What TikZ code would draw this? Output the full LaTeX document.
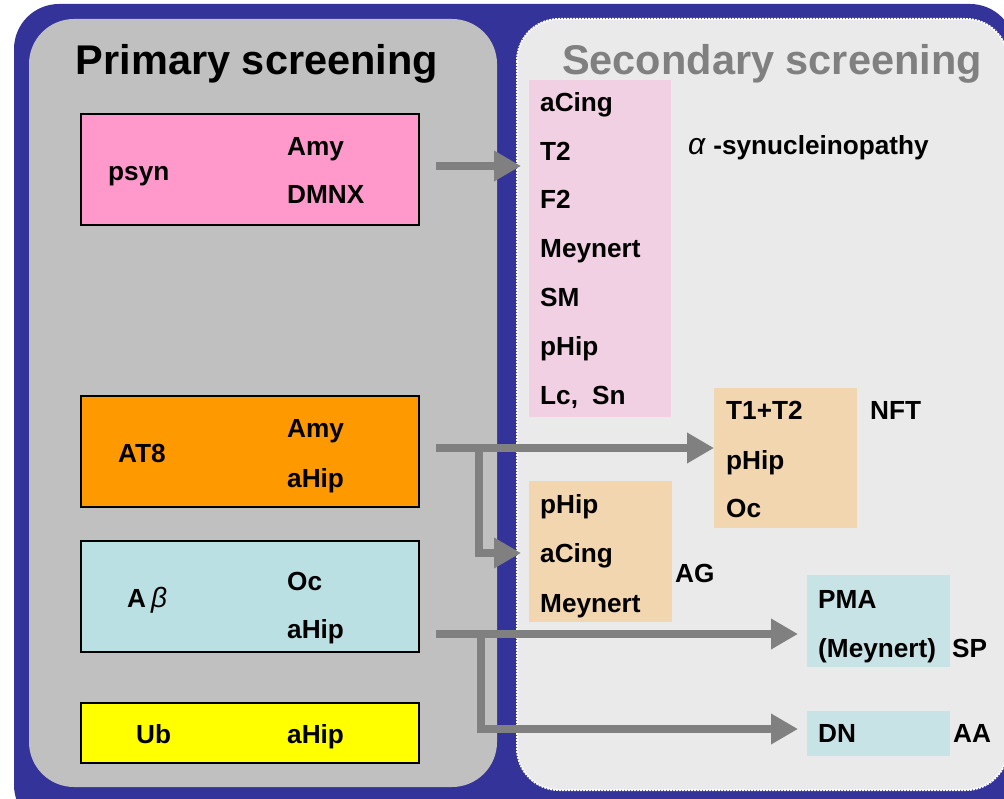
\documentclass[tikz,border=0pt]{standalone}
\usepackage{fontspec}
\setmainfont{Liberation Sans}
\usetikzlibrary{arrows.meta}
\definecolor{outerblue}{HTML}{333399}
\definecolor{panelgray}{HTML}{C0C0C0}
\definecolor{panellight}{HTML}{EAEAEA}
\definecolor{pinkhot}{HTML}{FF99CC}
\definecolor{orangebox}{HTML}{FF9900}
\definecolor{cyanbox}{HTML}{BBE0E3}
\definecolor{yellowbox}{HTML}{FFFF00}
\definecolor{pinklight}{HTML}{F0D0E2}
\definecolor{tanbox}{HTML}{F2D6B0}
\definecolor{bluelight}{HTML}{C8E3E6}
\definecolor{arrowgray}{HTML}{808080}
\definecolor{titlegray}{HTML}{808080}
\begin{document}
\begin{tikzpicture}[x=1pt,y=-1pt,
  primbox/.style={draw=black, line width=2pt, anchor=north west, inner sep=0pt, outer sep=0pt},
  secbox/.style={anchor=north west, inner sep=0pt, outer sep=0pt},
  lbl/.style={font=\fontsize{26.2}{30}\selectfont\bfseries, anchor=base west, inner sep=0pt},
  ttl/.style={font=\fontsize{41.5}{48}\selectfont\bfseries, anchor=base, inner sep=0pt},
  arr/.style={draw=arrowgray, line width=8pt, line join=miter, -{Triangle[length=27pt,width=29pt]}}
]
\useasboundingbox (0,0) rectangle (1004,799);
\clip (0,0) rectangle (1004,799);
\fill[white] (0,0) rectangle (1004,799);
% panels
\fill[outerblue, rounded corners=45pt] (14,4) rectangle (1015,830);
\fill[panelgray, rounded corners=45pt] (29,19) rectangle (497,787);
\filldraw[fill=panellight, draw=white, densely dotted, line width=2pt, rounded corners=42pt] (517,19) rectangle (1008,790);
% titles
\node[ttl] (ttlprim) at (257,75) {Primary screening};
\node[ttl, text=titlegray] (ttlsec) at (772,75) {Secondary screening};
% primary boxes
\node[primbox, fill=pinkhot, minimum width=338pt, minimum height=111pt] (psynbox) at (81,114) {};
\node[primbox, fill=orangebox, minimum width=338pt, minimum height=111pt] (at8box) at (81,396) {};
\node[primbox, fill=cyanbox, minimum width=338pt, minimum height=111pt] (abbox) at (81,541) {};
\node[primbox, fill=yellowbox, minimum width=338pt, minimum height=60pt] (ubbox) at (81,703) {};
% primary texts
\node[lbl] (tpsyn) at (108,181) {psyn};
\node[lbl] (tpsynamy) at (287,156) {Amy};
\node[lbl] (tpsyndmnx) at (287,204) {DMNX};
\node[lbl] (tat8) at (118,462) {AT8};
\node[lbl] (tat8amy) at (287,438) {Amy};
\node[lbl] (tat8ahip) at (287,487) {aHip};
\node[lbl] (tab) at (127,607) {A\hspace{5pt}{\mdseries\itshape\fontsize{28}{30}\selectfont β}};
\node[lbl] (taboc) at (287,590) {Oc};
\node[lbl] (tabahip) at (287,638) {aHip};
\node[lbl] (tub) at (136,743) {Ub};
\node[lbl] (tubahip) at (287,743) {aHip};
% secondary boxes
\node[secbox, fill=pinklight, minimum width=142pt, minimum height=337pt] (synbox) at (529,80) {};
\node[secbox, fill=tanbox, minimum width=143pt, minimum height=140pt] (nftbox) at (714,388) {};
\node[secbox, fill=tanbox, minimum width=143pt, minimum height=141pt] (agbox) at (529,481) {};
\node[secbox, fill=bluelight, minimum width=143pt, minimum height=92pt] (spbox) at (807,575) {};
\node[secbox, fill=bluelight, minimum width=143pt, minimum height=45pt] (aabox) at (807,711) {};
% secondary texts
\node[lbl] (s1) at (540,112) {aCing};
\node[lbl] (s2) at (540,161) {T2};
\node[lbl] (s3) at (540,209) {F2};
\node[lbl] (s4) at (540,258) {Meynert};
\node[lbl] (s5) at (540,307) {SM};
\node[lbl] (s6) at (540,356) {pHip};
\node[lbl] (s7) at (540,405) {Lc,\hspace{14pt}Sn};
\node[lbl] (syntxt) at (688,155) {{\mdseries\itshape\fontsize{30}{30}\selectfont α}\hspace{8pt}-synucleinopathy};
\node[lbl] (n1) at (726,420) {T1+T2};
\node[lbl] (n2) at (726,469) {pHip};
\node[lbl] (n3) at (726,517) {Oc};
\node[lbl] (nftlbl) at (870,420) {NFT};
\node[lbl] (g1) at (540,513) {pHip};
\node[lbl] (g2) at (540,562) {aCing};
\node[lbl] (g3) at (540,612) {Meynert};
\node[lbl] (aglbl) at (675,582) {AG};
\node[lbl] (p1) at (818,608) {PMA};
\node[lbl] (p2) at (818,657) {(Meynert)};
\node[lbl] (splbl) at (952,657) {SP};
\node[lbl] (d1) at (818,742) {DN};
\node[lbl] (aalbl) at (953,742) {AA};
% connectors
\coordinate (psynout) at (436,166);
\coordinate (synin) at (521,166);
\draw[arr] (psynout) -- (synin);
\coordinate (at8out) at (436,448);
\coordinate (at8br) at (479,448);
\coordinate (agin) at (521,553);
\draw[arr] (at8out) -- (at8out -| nftbox.west);
\draw[arr] (at8br) |- (agin);
\coordinate (about) at (436,634);
\coordinate (abbr) at (481,634);
\coordinate (spin) at (798,634);
\coordinate (aain) at (798,729);
\draw[arr] (about) -- (spin);
\draw[arr] (abbr) |- (aain);
\end{tikzpicture}
\end{document}
